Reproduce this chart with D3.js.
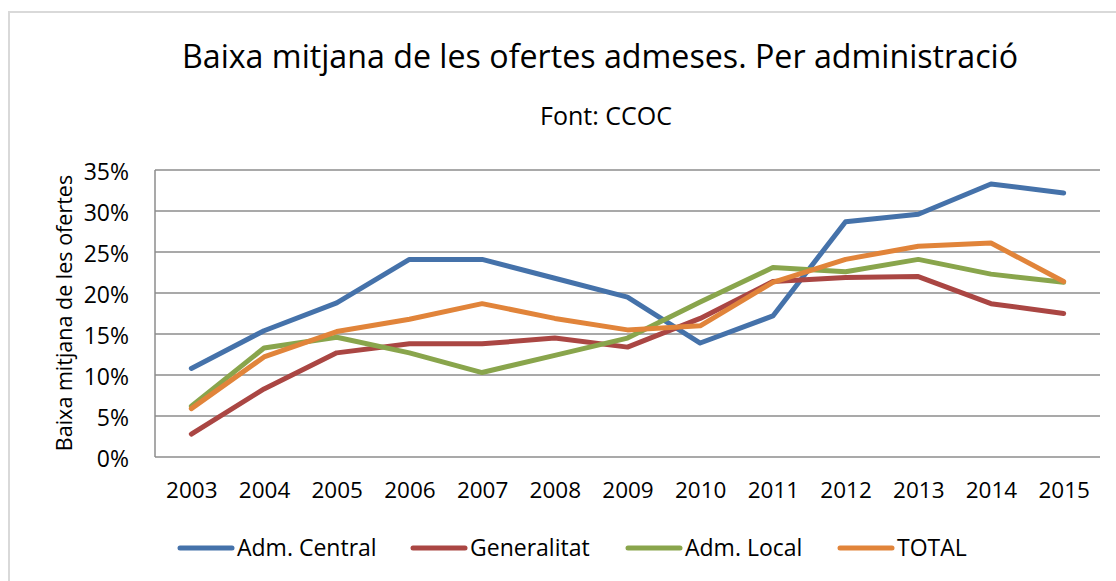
<!DOCTYPE html>
<html><head><meta charset="utf-8">
<script src="https://cdn.jsdelivr.net/npm/d3@7"></script>
<style>body{margin:0;background:#fff;} text{font-family:"Open Sans",sans-serif;fill:#000;}</style>
</head><body><svg id="c" width="1116" height="581"></svg>
<script>
const years = ["2003","2004","2005","2006","2007","2008","2009","2010","2011","2012","2013","2014","2015"];
const admCentral = [10.8,15.4,18.8,24.1,24.1,21.8,19.5,13.9,17.2,28.7,29.6,33.3,32.2];
const generalitat = [2.8,8.3,12.7,13.8,13.8,14.5,13.4,16.9,21.4,21.9,22.0,18.7,17.5];
const admLocal = [6.2,13.3,14.6,12.7,10.3,12.4,14.5,18.9,23.1,22.6,24.1,22.3,21.3];
const total = [5.9,12.2,15.3,16.8,18.7,16.9,15.5,16.0,21.3,24.1,25.7,26.1,21.4];
const seriesNames = ["Adm. Central","Generalitat","Adm. Local","TOTAL"];
const seriesColors = ["#4572AA","#AA4643","#89A54C","#E1843A"];
const yTicks = [0,5,10,15,20,25,30,35];

const svg = d3.select("#c");
// outer chart border
svg.append("rect").attr("x",9).attr("y",12).attr("width",1120).attr("height",600)
  .attr("fill","#fff").attr("stroke","#D9D9D9").attr("stroke-width",2);

const L=155,R=1100,T=170,B=457;
const x = d3.scalePoint().domain(years).range([L,R]).padding(0.5);
const y = d3.scaleLinear().domain([0,35]).range([B,T]);

// gridlines
svg.append("g").selectAll("line").data(yTicks).join("line")
  .attr("x1",L).attr("x2",R).attr("y1",d=>y(d)).attr("y2",d=>y(d))
  .attr("stroke","#8C8C8C").attr("stroke-width",1.5);
svg.append("line").attr("x1",L).attr("x2",L).attr("y1",T).attr("y2",B)
  .attr("stroke","#8C8C8C").attr("stroke-width",1.5);

// y axis labels
const yAxis = d3.axisLeft(y).tickValues(yTicks).tickFormat(d=>d+"%").tickSize(0).tickPadding(26);
const gy = svg.append("g").attr("transform",`translate(${L},0)`).call(yAxis);
gy.select(".domain").remove();
gy.selectAll("text").style("font-family","Open Sans").style("font-size","23px").attr("fill","#000").attr("dy","0.42em");

// x axis labels
const xAxis = d3.axisBottom(x).tickSize(0).tickPadding(25);
const gx = svg.append("g").attr("transform",`translate(0,${B})`).call(xAxis);
gx.select(".domain").remove();
gx.selectAll("text").style("font-family","Open Sans").style("font-size","22.5px").attr("fill","#000");

// lines
const data = [admCentral,generalitat,admLocal,total];
const line = d3.line().x((d,i)=>x(years[i])).y(d=>y(d));
svg.append("g").selectAll("path").data(data).join("path")
  .attr("d",line).attr("fill","none")
  .attr("stroke",(d,i)=>seriesColors[i]).attr("stroke-width",5)
  .attr("stroke-linejoin","round").attr("stroke-linecap","round");

// titles
svg.append("text").attr("x",600).attr("y",68).attr("text-anchor","middle")
  .style("font-size","32.2px").text("Baixa mitjana de les ofertes admeses. Per administració");
svg.append("text").attr("x",606).attr("y",125).attr("text-anchor","middle")
  .style("font-size","25px").text("Font: CCOC");
svg.append("text").attr("transform","translate(72,313) rotate(-90)").attr("text-anchor","middle")
  .style("font-size","21.5px").text("Baixa mitjana de les ofertes");

// legend
const legX = [180,413,628,840];
const lg = svg.append("g").selectAll("g").data(seriesNames).join("g")
  .attr("transform",(d,i)=>`translate(${legX[i]},548)`);
lg.append("line").attr("x1",0).attr("x2",52).attr("y1",0).attr("y2",0)
  .attr("stroke",(d,i)=>seriesColors[i]).attr("stroke-width",5).attr("stroke-linecap","round");
lg.append("text").attr("x",57).attr("y",8).style("font-size","23px").text(d=>d);
</script></body></html>
